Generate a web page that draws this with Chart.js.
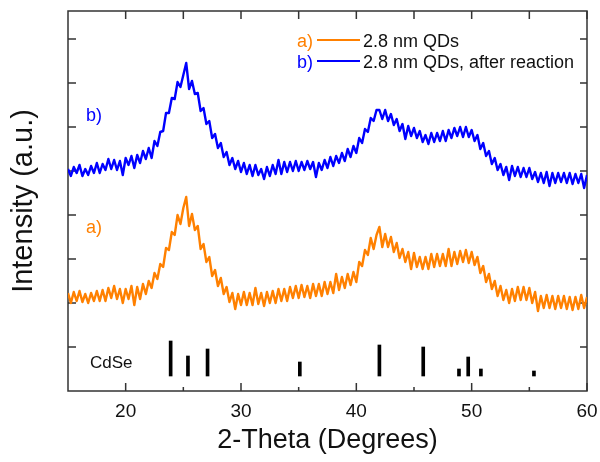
<!DOCTYPE html>
<html>
<head>
<meta charset="utf-8">
<script src="https://cdn.jsdelivr.net/npm/chart.js@4"></script>
<style>
  html, body { margin: 0; padding: 0; background: #fff; }
</style>
</head>
<body>
<canvas id="xrd" width="600" height="462"></canvas>
<script>
// scan grid (2-theta, degrees)
const thetaStart = 15;
const thetaStep = 0.25;

// a) 2.8 nm QDs  (arbitrary units, read off the figure)
const qdCounts = [
  98, 88, 99, 90, 100, 89, 97, 88,
  98, 90, 100, 90, 101, 90, 103, 93,
  105, 92, 102, 88, 102, 92, 105, 86,
  104, 92, 107, 97, 110, 103, 118, 112,
  127, 124, 143, 141, 159, 156, 176, 167,
  183, 194, 165, 177, 161, 165, 142, 147,
  129, 134, 115, 121, 105, 113, 97, 104,
  89, 98, 82, 97, 86, 99, 86, 98,
  86, 103, 87, 98, 85, 99, 88, 100,
  88, 102, 90, 102, 90, 104, 93, 105,
  93, 106, 94, 105, 93, 107, 95, 107,
  95, 109, 97, 109, 98, 117, 101, 114,
  103, 117, 106, 119, 109, 129, 125, 141,
  136, 153, 142, 156, 164, 144, 157, 144,
  154, 139, 148, 133, 142, 129, 139, 122,
  138, 124, 134, 122, 134, 122, 137, 124,
  137, 125, 137, 125, 142, 125, 139, 127,
  140, 129, 141, 128, 139, 126, 134, 118,
  125, 109, 117, 102, 110, 95, 105, 91,
  101, 88, 102, 90, 104, 91, 104, 91,
  103, 88, 99, 80, 95, 83, 96, 83,
  95, 82, 95, 83, 95, 82, 94, 81,
  94, 82, 96, 83, 94
];

// b) 2.8 nm QDs, after reaction
const qdAfterCounts = [
  222, 215, 224, 218, 226, 215, 222, 216,
  225, 218, 228, 218, 227, 221, 232, 222,
  231, 221, 230, 216, 233, 226, 235, 223,
  236, 228, 240, 232, 243, 233, 250, 245,
  259, 260, 278, 278, 293, 292, 309, 304,
  316, 328, 302, 310, 297, 298, 280, 283,
  267, 270, 253, 257, 243, 248, 234, 239,
  226, 233, 222, 230, 219, 228, 217, 226,
  215, 226, 216, 222, 212, 224, 215, 226,
  217, 231, 217, 229, 219, 229, 220, 230,
  220, 229, 221, 230, 222, 229, 214, 228,
  221, 231, 223, 234, 225, 235, 228, 238,
  230, 242, 234, 245, 238, 253, 248, 262,
  259, 273, 270, 281, 281, 272, 281, 270,
  277, 266, 272, 260, 267, 252, 265, 255,
  263, 253, 260, 249, 256, 247, 258, 249,
  258, 250, 260, 250, 261, 253, 263, 255,
  264, 254, 264, 254, 261, 250, 256, 242,
  248, 235, 240, 227, 233, 221, 227, 216,
  224, 211, 225, 215, 224, 214, 223, 214,
  223, 212, 219, 209, 218, 208, 219, 205,
  218, 208, 218, 209, 218, 208, 218, 207,
  217, 208, 217, 203, 216
];

// CdSe reference lines
const cdsePeaks = [23.9, 25.4, 27.1, 35.1, 42.0, 45.8, 48.9, 49.7, 50.8, 55.4];
const cdseTops = [50, 35, 42, 29, 46, 44, 22, 34, 22, 20];
const cdseBase = 15;

const xLabelTicks = [20, 30, 40, 50, 60];
const xMinorTicks = [25, 35, 45, 55];
const yTicks = [44, 88, 132, 176, 220, 264, 308, 352];

const seriesNames = ['2.8 nm QDs', '2.8 nm QDs, after reaction'];
const seriesTags = ['a)', 'b)'];
const seriesColors = ['#ff8000', '#0000ff'];

const FONT = '"Liberation Sans", Arial, sans-serif';

const thetas = qdCounts.map((_, i) => thetaStart + i * thetaStep);

// frame + inward ticks, drawn under the curves
const frame = {
    id: 'frame',
    beforeDatasetsDraw(chart) {
        const { ctx, chartArea: a, scales: { x, y } } = chart;
        ctx.save();
        ctx.strokeStyle = '#333';
        ctx.lineWidth = 1.5;
        ctx.strokeRect(a.left, a.top, a.right - a.left, a.bottom - a.top);
        ctx.beginPath();
        xLabelTicks.forEach(v => {
            const px = x.getPixelForValue(v);
            ctx.moveTo(px, a.bottom); ctx.lineTo(px, a.bottom - 8);
            ctx.moveTo(px, a.top); ctx.lineTo(px, a.top + 8);
        });
        xMinorTicks.forEach(v => {
            const px = x.getPixelForValue(v);
            ctx.moveTo(px, a.bottom); ctx.lineTo(px, a.bottom - 4);
            ctx.moveTo(px, a.top); ctx.lineTo(px, a.top + 8);
        });
        yTicks.forEach(v => {
            const py = y.getPixelForValue(v);
            ctx.moveTo(a.left, py); ctx.lineTo(a.left + 8, py);
            ctx.moveTo(a.right, py); ctx.lineTo(a.right - 7, py);
        });
        ctx.stroke();
        ctx.restore();
    }
};

// curve tags, CdSe label and the legend box
const labels = {
    id: 'labels',
    afterDatasetsDraw(chart) {
        const { ctx, chartArea: a, scales: { x, y } } = chart;
        ctx.save();
        ctx.textAlign = 'left';
        ctx.textBaseline = 'alphabetic';
        ctx.font = '18px ' + FONT;

        // a) / b) next to the curves
        ctx.fillStyle = seriesColors[0];
        ctx.fillText(seriesTags[0], x.getPixelForValue(16.55), y.getPixelForValue(158));
        ctx.fillStyle = seriesColors[1];
        ctx.fillText(seriesTags[1], x.getPixelForValue(16.55), y.getPixelForValue(270));

        ctx.font = '17px ' + FONT;
        ctx.fillStyle = '#111';
        ctx.fillText('CdSe', x.getPixelForValue(16.9), y.getPixelForValue(23));

        // legend
        ctx.font = '18px ' + FONT;
        seriesNames.forEach((name, i) => {
            const base = a.top + 36 + i * 21;
            ctx.textAlign = 'right';
            ctx.fillStyle = seriesColors[i];
            ctx.fillText(seriesTags[i], a.right - 274, base);
            ctx.strokeStyle = seriesColors[i];
            ctx.lineWidth = 2;
            ctx.beginPath();
            ctx.moveTo(a.right - 270, base - 7);
            ctx.lineTo(a.right - 227, base - 7);
            ctx.stroke();
            ctx.textAlign = 'left';
            ctx.fillStyle = '#111';
            ctx.fillText(name, a.right - 224, base);
        });
        ctx.restore();
    }
};

new Chart(document.getElementById('xrd'), {
    type: 'line',
    data: {
        datasets: [
            {
                type: 'bar',
                label: 'CdSe',
                data: cdsePeaks.map((p, i) => ({ x: p, y: [cdseBase, cdseTops[i]] })),
                backgroundColor: '#000',
                barThickness: 3
            },
            {
                label: seriesNames[0],
                data: thetas.map((t, i) => ({ x: t, y: qdCounts[i] })),
                borderColor: seriesColors[0],
                borderWidth: 2.4,
                borderJoinStyle: 'round',
                pointRadius: 0,
                tension: 0
            },
            {
                label: seriesNames[1],
                data: thetas.map((t, i) => ({ x: t, y: qdAfterCounts[i] })),
                borderColor: seriesColors[1],
                borderWidth: 2.4,
                borderJoinStyle: 'round',
                pointRadius: 0,
                tension: 0
            }
        ]
    },
    options: {
        responsive: false,
        animation: false,
        devicePixelRatio: 1,
        layout: { padding: { left: 0, right: 13, top: 11, bottom: 0 } },
        plugins: {
            legend: { display: false },
            tooltip: { enabled: false }
        },
        scales: {
            x: {
                type: 'linear',
                min: 15,
                max: 60,
                offset: false,
                afterBuildTicks: s => { s.ticks = xLabelTicks.map(v => ({ value: v })); },
                afterFit: s => {
                    s.height = 71;
                    s.paddingLeft = 0;
                    s.paddingRight = 0;
                },
                grid: { display: false, drawTicks: false },
                border: { display: false },
                ticks: {
                    color: '#111',
                    font: { family: FONT, size: 19 },
                    padding: 9,
                    maxRotation: 0,
                    autoSkip: false
                },
                title: {
                    display: true,
                    text: '2-Theta (Degrees)',
                    color: '#111',
                    font: { family: FONT, size: 27 },
                    padding: { top: 0, bottom: 5 }
                }
            },
            y: {
                min: 0,
                max: 380,
                afterBuildTicks: s => { s.ticks = yTicks.map(v => ({ value: v })); },
                afterFit: s => { s.width = 68; },
                grid: { display: false, drawTicks: false },
                border: { display: false },
                ticks: { display: false },
                title: {
                    display: true,
                    text: 'Intensity (a.u.)',
                    color: '#111',
                    font: { family: FONT, size: 29 },
                    padding: { top: 7, bottom: 0 }
                }
            }
        }
    },
    plugins: [frame, labels]
});
</script>
</body>
</html>
